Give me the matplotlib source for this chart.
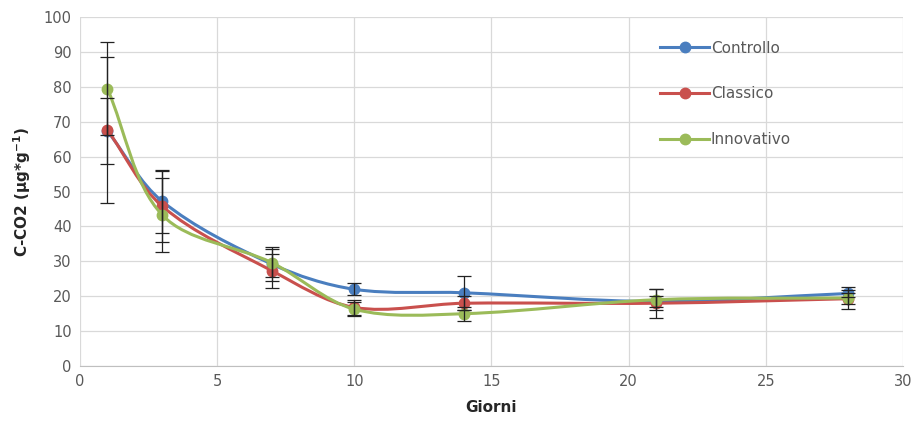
import matplotlib
matplotlib.use('agg')

import matplotlib.pyplot as plt
from matplotlib.path import Path
from matplotlib.patches import PathPatch
from matplotlib.lines import Line2D
import numpy as np

days = [1, 3, 7, 10, 14, 21, 28]
series_names = ["Controllo", "Classico", "Innovativo"]
controllo = [67.4, 47.2, 29.2, 22.0, 21.0, 18.5, 20.8]
classico = [67.7, 45.8, 27.3, 16.8, 18.0, 18.0, 19.3]
innovativo = [79.5, 43.3, 29.6, 16.3, 15.0, 19.0, 19.5]
err_controllo = [9.4, 9.0, 4.8, 1.7, 4.8, 1.5, 1.0]
err_classico = [21.0, 10.2, 4.8, 2.1, 2.0, 4.2, 1.5]
err_innovativo = [13.4, 10.6, 4.0, 2.0, 2.0, 3.0, 3.2]

colors = ["#4a7ebf", "#c9504d", "#9bbb59"]

# pixels per data unit, used to weigh the smoothing like Excel does on screen
SX = 823 / 30.0
SY = 349 / 100.0


def smooth_path(xs, ys):
    # Excel-like smoothed line: cubic Bezier, tangents weighted by segment length
    pts = np.column_stack([xs, ys]).astype(float)
    scr = pts * [SX, SY]
    n = len(pts)
    verts = [pts[0]]
    codes = [Path.MOVETO]

    def dist(a, b):
        return np.hypot(*(scr[a] - scr[b]))

    for i in range(n - 1):
        i0 = max(i - 1, 0)
        i3 = min(i + 2, n - 1)
        d01 = dist(i0, i)
        d12 = dist(i, i + 1)
        d23 = dist(i + 1, i3)
        f1 = d12 / (d01 + d12) / 3.0 if d01 + d12 > 0 else 0
        f2 = d12 / (d12 + d23) / 3.0 if d12 + d23 > 0 else 0
        c1 = pts[i] + (pts[i + 1] - pts[i0]) * f1
        c2 = pts[i + 1] - (pts[i3] - pts[i]) * f2
        verts += [c1, c2, pts[i + 1]]
        codes += [Path.CURVE4] * 3
    return Path(verts, codes)


fig = plt.figure(figsize=(9.12, 4.41), dpi=100)
ax = fig.add_axes([0.0877, 0.170, 0.9023, 0.791])

data = [controllo, classico, innovativo]
errs = [err_controllo, err_classico, err_innovativo]
handles = []
for k, (vals, col, name) in enumerate(zip(data, colors, series_names)):
    patch = PathPatch(smooth_path(days, vals), facecolor="none", edgecolor=col,
                      lw=2.2, zorder=2 + k, capstyle="round")
    ax.add_patch(patch)
    ax.plot(days, vals, "o", color=col, ms=7.5, zorder=2 + k)
    handles.append(Line2D([], [], color=col, lw=2.2, marker="o", ms=7.5, label=name))

for vals, e in zip(data, errs):
    ax.errorbar(days, vals, yerr=e, fmt="none", ecolor="#222222", elinewidth=0.9,
                capsize=5, capthick=0.9, zorder=10)

ax.set_xlim(0, 30)
ax.set_ylim(0, 100)
ax.set_xticks(range(0, 31, 5))
ax.set_yticks(range(0, 101, 10))
ax.grid(True, color="#d9d9d9", lw=0.9)
ax.set_axisbelow(True)
for s in ["top", "right", "left"]:
    ax.spines[s].set_visible(False)
ax.spines["bottom"].set_color("#bfbfbf")
ax.tick_params(length=0, labelsize=10.5, labelcolor="#595959", pad=6)

ax.set_xlabel("Giorni", fontsize=11, fontweight="bold", color="#262626", labelpad=8)
ax.set_ylabel(r"C-CO2 (µg*g$^{\mathbf{-1}}$)", fontsize=11, fontweight="bold",
              color="#262626", labelpad=8)

leg = ax.legend(handles=handles, loc="upper left", bbox_to_anchor=(0.698, 0.95),
                frameon=False, fontsize=11, labelspacing=2.0, handlelength=3.2,
                handletextpad=0.1, borderaxespad=0)
for t in leg.get_texts():
    t.set_color("#595959")

fig.savefig("out.png", dpi=100)
